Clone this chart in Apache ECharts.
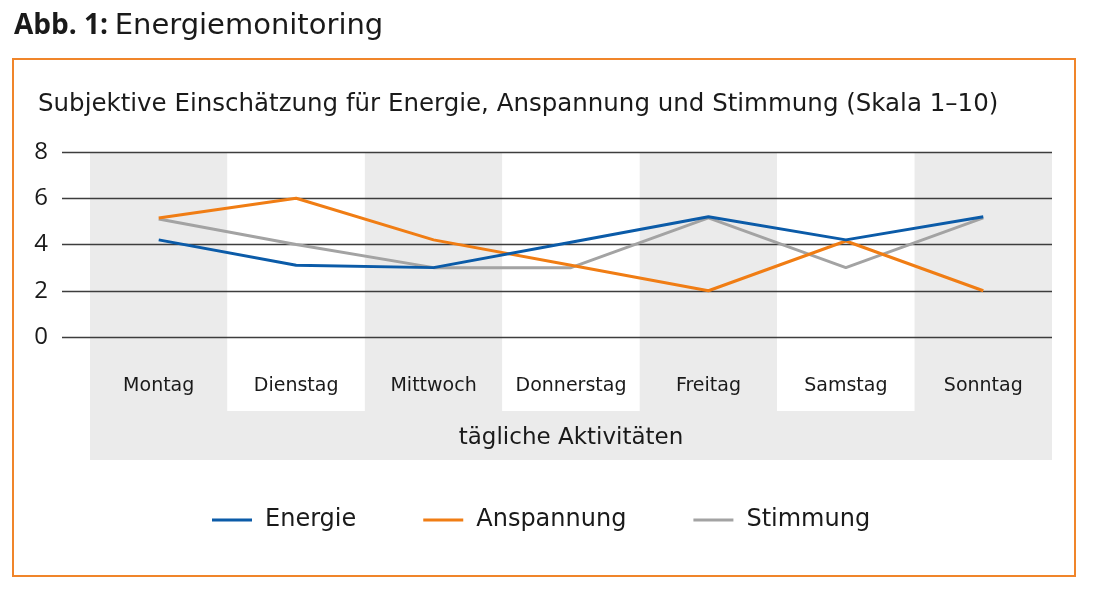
<!DOCTYPE html>
<html><head><meta charset="utf-8">
<script src="https://cdn.jsdelivr.net/npm/echarts@6/dist/echarts.min.js"></script>
<style>html,body{margin:0;padding:0;background:#fff}#c{width:1100px;height:597px}</style>
</head><body><div id="c"></div>
<script>
const categories = ['Montag','Dienstag','Mittwoch','Donnerstag','Freitag','Samstag','Sonntag'];
const energie    = [4.2, 3.1, 3.0, 4.1, 5.2, 4.2, 5.2];
const anspannung = [5.15, 6.0, 4.2, 3.1, 2.0, 4.15, 2.0];
const stimmung   = [5.1, 4.0, 3.0, 3.0, 5.15, 3.0, 5.15];
const yTicks = [0, 2, 4, 6, 8];

const FONT = '"DejaVu Sans", sans-serif';
const FONT2 = '"Open Sans", "Noto Sans", sans-serif';
const chart = echarts.init(document.getElementById('c'));
chart.setOption({
  backgroundColor: '#fff',
  animation: false,
  graphic: [
    { type: 'text', left: 14, top: 12, style: { text: '{b|Abb. 1:}  {r|Energiemonitoring}', rich: {
      b: { fontFamily: FONT2, fontWeight: 'bold', fontSize: 28, fill: '#1a1a1a' },
      r: { fontFamily: FONT, fontSize: 29, fill: '#1a1a1a' } } } },
    { type: 'rect', shape: { x: 13, y: 59, width: 1062, height: 517 }, style: { fill: 'none', stroke: '#F0852A', lineWidth: 2 }, z: 10 },
    { type: 'text', left: 38, top: 92, style: { text: 'Subjektive Einschätzung für Energie, Anspannung und Stimmung (Skala 1–10)', fontFamily: FONT, fontSize: 24.5, fill: '#1a1a1a' } }
  ],
  legend: {
    top: 503, left: 207,
    icon: 'rect', itemWidth: 40, itemHeight: 3, itemGap: 67,
    textStyle: { fontFamily: FONT, fontSize: 24, color: '#1a1a1a', padding: [0, 0, 0, 8] },
    data: ['Energie', 'Anspannung', 'Stimmung']
  },
  grid: [
    { left: 62, right: 48, top: 152, height: 185 },
    { left: 90, right: 48, top: 152, bottom: 186 },
    { left: 90, right: 48, top: 411, bottom: 137, show: true, backgroundColor: '#EBEBEB', borderWidth: 0 }
  ],
  xAxis: [
    { gridIndex: 0, type: 'category', data: categories, show: false },
    { gridIndex: 1, type: 'category', data: categories, boundaryGap: true,
      axisLine: { show: false }, axisTick: { show: false },
      axisLabel: { inside: true, interval: 0, margin: 15, fontFamily: FONT, fontSize: 19, color: '#1a1a1a' },
      splitArea: { show: true, interval: 0, areaStyle: { color: ['#EBEBEB', '#FFFFFF'] } },
      splitLine: { show: false },
      name: 'tägliche Aktivitäten', nameLocation: 'middle', nameGap: 16,
      nameTextStyle: { fontFamily: FONT, fontSize: 23, color: '#1a1a1a' }, z: 0 },
    { gridIndex: 2, type: 'category', data: categories, show: false }
  ],
  yAxis: [
    { gridIndex: 0, type: 'value', min: yTicks[0], max: yTicks[yTicks.length - 1], interval: 2, z: 3,
      axisLine: { show: false }, axisTick: { show: false },
      axisLabel: { margin: 14, fontFamily: FONT2, fontSize: 24, color: '#1a1a1a' },
      splitLine: { lineStyle: { color: '#3d3d3d', width: 1.4 } } },
    { gridIndex: 1, type: 'value', min: -3.2, max: 8, show: false, splitLine: { show: false } },
    { gridIndex: 2, type: 'value', show: false, splitLine: { show: false } }
  ],
  series: [
    { name: 'Energie', type: 'line', xAxisIndex: 1, yAxisIndex: 1, data: energie, symbol: 'none', z: 5,
      lineStyle: { color: '#0B5BA8', width: 3 }, itemStyle: { color: '#0B5BA8' } },
    { name: 'Anspannung', type: 'line', xAxisIndex: 1, yAxisIndex: 1, data: anspannung, symbol: 'none', z: 4,
      lineStyle: { color: '#F07D14', width: 3 }, itemStyle: { color: '#F07D14' } },
    { name: 'Stimmung', type: 'line', xAxisIndex: 1, yAxisIndex: 1, data: stimmung, symbol: 'none', z: 3,
      lineStyle: { color: '#A3A3A3', width: 3 }, itemStyle: { color: '#A3A3A3' } }
  ]
});
</script></body></html>
